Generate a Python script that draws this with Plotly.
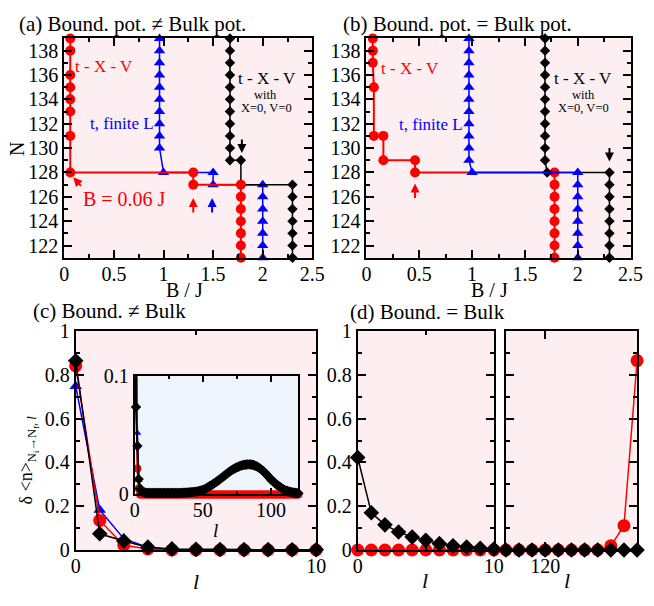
import plotly.graph_objects as go

W, H = 654, 606
FONT = "Liberation Serif"
RED, BLUE, BLACK = "#ff0000", "#0000ff", "#000000"
PINK, LBLUE = "#fdeef2", "#eef5fc"

# ---------------- panel (a): Bound. pot. != Bulk pot. ----------------
a_red_B = [0.06, 0.06, 0.06, 0.06, 0.06, 0.06, 0.06, 0.06, 1.3, 1.3,
           1.78, 1.78, 1.78, 1.78, 1.78, 1.78, 1.78]
a_red_N = [139, 138, 136, 135, 134, 133, 131, 128, 128, 127,
           127, 126, 125, 124, 123, 122, 121]
a_blue_B = [0.96, 0.96, 0.96, 0.96, 0.96, 0.96, 0.96, 0.96, 0.96, 0.96,
            1.0, 1.5, 1.5, 2.0, 2.0, 2.0, 2.0, 2.0, 2.0, 2.0]
a_blue_N = [139, 138, 137, 136, 135, 134, 133, 132, 131, 130,
            128, 128, 127, 127, 126, 125, 124, 123, 122, 121]
a_black_B = [1.67, 1.67, 1.67, 1.67, 1.67, 1.67, 1.67, 1.67, 1.67, 1.67, 1.67,
             1.78, 1.78, 2.3, 2.3, 2.3, 2.3, 2.3, 2.3, 2.3]
a_black_N = [139, 138, 137, 136, 135, 134, 133, 132, 131, 130, 129,
             129, 127, 127, 126, 125, 124, 123, 122, 121]

# ---------------- panel (b): Bound. pot. = Bulk pot. ----------------
b_red_B = [0.06, 0.06, 0.06, 0.07, 0.07, 0.16, 0.16, 0.46, 0.46,
           1.78, 1.78, 1.78, 1.78, 1.78, 1.78, 1.78, 1.78]
b_red_N = [139, 138, 137, 135, 131, 131, 129, 129, 128,
           128, 127, 126, 125, 124, 123, 122, 121]
b_blue_B = [0.97, 0.97, 0.97, 0.97, 0.97, 0.97, 0.97, 0.97, 0.97, 0.97, 0.97,
            1.0, 2.0, 2.0, 2.0, 2.0, 2.0, 2.0, 2.0, 2.0]
b_blue_N = [139, 138, 137, 136, 135, 134, 133, 132, 131, 130, 129,
            128, 128, 127, 126, 125, 124, 123, 122, 121]
b_black_B = [1.69, 1.69, 1.69, 1.69, 1.69, 1.69, 1.69, 1.69, 1.69, 1.69, 1.69,
             1.71, 2.3, 2.3, 2.3, 2.3, 2.3, 2.3, 2.3, 2.3]
b_black_N = [139, 138, 137, 136, 135, 134, 133, 132, 131, 130, 129,
             128, 128, 127, 126, 125, 124, 123, 122, 121]

# ---------------- panel (c): Bound. != Bulk, l = 0..127 ----------------
c_black = [
    0.865, 0.074, 0.041, 0.013, 0.005, 0.0030, 0.0022, 0.0018, 0.0015, 0.0014,
    0.0013, 0.0013, 0.0012, 0.0012, 0.0012, 0.0012, 0.0012, 0.0012, 0.0012, 0.0012,
    0.0012, 0.0012, 0.0012, 0.0012, 0.0012, 0.0012, 0.0012, 0.0012, 0.0012, 0.0012,
    0.0012, 0.0013, 0.0013, 0.0013, 0.0014, 0.0014, 0.0015, 0.0015, 0.0016, 0.0017,
    0.0018, 0.0019, 0.0020, 0.0021, 0.0022, 0.0024, 0.0026, 0.0028, 0.0031, 0.0034,
    0.0038, 0.0043, 0.0049, 0.0056, 0.0063, 0.0070, 0.0077, 0.0084, 0.0092, 0.0100,
    0.0108, 0.0116, 0.0125, 0.0134, 0.0143, 0.0152, 0.0161, 0.0170, 0.0179, 0.0188,
    0.0196, 0.0204, 0.0211, 0.0218, 0.0224, 0.0230, 0.0235, 0.0240, 0.0244, 0.0247,
    0.0250, 0.0252, 0.0254, 0.0255, 0.0255, 0.0254, 0.0252, 0.0249, 0.0245, 0.0240,
    0.0234, 0.0227, 0.0219, 0.0210, 0.0200, 0.0190, 0.0178, 0.0165, 0.0152, 0.0139,
    0.0125, 0.0115, 0.0105, 0.0095, 0.0085, 0.0075, 0.0068, 0.0060, 0.0052, 0.0044,
    0.0037, 0.0033, 0.0029, 0.0025, 0.0022, 0.0019, 0.0017, 0.0015, 0.0013, 0.0012,
    0.0011, 0.0010, 0.0010, 0.0010, 0.0010, 0.0010, 0.0010, 0.0010]
c_red = [
    0.841, 0.135, 0.022, 0.005, 0, 0, 0, 0, 0, 0, 0, 0, 0, 0, 0, 0,
    0, 0, 0, 0, 0, 0, 0, 0, 0, 0, 0, 0, 0, 0, 0, 0,
    0, 0, 0, 0, 0, 0, 0, 0, 0, 0, 0, 0, 0, 0, 0, 0,
    0, 0, 0, 0, 0, 0, 0, 0, 0, 0, 0, 0, 0, 0, 0, 0,
    0, 0, 0, 0, 0, 0, 0, 0, 0, 0, 0, 0, 0, 0, 0, 0,
    0, 0, 0, 0, 0, 0, 0, 0, 0, 0, 0, 0, 0, 0, 0, 0,
    0, 0, 0, 0, 0, 0, 0, 0, 0, 0, 0, 0, 0, 0, 0, 0,
    0, 0, 0, 0, 0, 0, 0, 0, 0, 0, 0, 0, 0, 0, 0, 0]
c_blue = [
    0.749, 0.183, 0.052, 0.012, 0.002, 0, 0, 0, 0, 0, 0, 0, 0, 0, 0, 0,
    0, 0, 0, 0, 0, 0, 0, 0, 0, 0, 0, 0, 0, 0, 0, 0,
    0, 0, 0, 0, 0, 0, 0, 0, 0, 0, 0, 0, 0, 0, 0, 0,
    0, 0, 0, 0, 0, 0, 0, 0, 0, 0, 0, 0, 0, 0, 0, 0,
    0, 0, 0, 0, 0, 0, 0, 0, 0, 0, 0, 0, 0, 0, 0, 0,
    0, 0, 0, 0, 0, 0, 0, 0, 0, 0, 0, 0, 0, 0, 0, 0,
    0, 0, 0, 0, 0, 0, 0, 0, 0, 0, 0, 0, 0, 0, 0, 0,
    0, 0, 0, 0, 0, 0, 0, 0, 0, 0, 0, 0, 0, 0, 0, 0]
c_l = list(range(len(c_black)))

# ---------------- panel (d): Bound. = Bulk ----------------
d_left_l = [0, 1, 2, 3, 4, 5, 6, 7, 8, 9, 10]
d_left_black = [0.423, 0.170, 0.115, 0.082, 0.059, 0.044, 0.029, 0.019, 0.014, 0.008, 0.004]
d_left_red = [0, 0, 0, 0, 0, 0, 0, 0, 0, 0, 0]
d_right_l = [117, 118, 119, 120, 121, 122, 123, 124, 125, 126, 127]
d_right_black = [0, 0, 0, 0, 0, 0, 0, 0, 0, 0, 0]
d_right_red = [0, 0, 0, 0, 0, 0, 0, 0, 0.019, 0.111, 0.866]


def px(x):
    return x / W


def py(y):
    return 1 - y / H


fig = go.Figure()


def add(x, y, color, symbol, size, lw, ax, ayx):
    fig.add_trace(go.Scatter(
        x=x, y=y, mode="lines+markers", xaxis=ax, yaxis=ayx,
        line=dict(color=color, width=lw),
        marker=dict(color=color, symbol=symbol, size=size, line=dict(width=0)),
        cliponaxis=False, showlegend=False, hoverinfo="skip"))


# (a): blue, black, red (red on top)
add(a_blue_B, a_blue_N, BLUE, "triangle-up", 10, 1.5, "x", "y")
add(a_black_B, a_black_N, BLACK, "diamond", 8, 1.5, "x", "y")
add(a_red_B, a_red_N, RED, "circle", 10, 2, "x", "y")
# (b): red, black, blue (blue on top)
add(b_red_B, b_red_N, RED, "circle", 10, 2, "x2", "y2")
add(b_black_B, b_black_N, BLACK, "diamond", 8, 1.5, "x2", "y2")
add(b_blue_B, b_blue_N, BLUE, "triangle-up", 10, 1.5, "x2", "y2")
# (c) main
add(c_l, c_blue, BLUE, "triangle-up", 11, 1.5, "x3", "y3")
add(c_l, c_red, RED, "circle", 13, 1.5, "x3", "y3")
add(c_l, c_black, BLACK, "diamond", 12, 1.5, "x3", "y3")
# (c) inset
add(c_l, c_blue, BLUE, "triangle-up", 7, 1.5, "x4", "y4")
add(c_l, c_red, RED, "circle", 8, 2, "x4", "y4")
add(c_l, c_black, BLACK, "diamond", 8, 2, "x4", "y4")
# (d)
add(d_left_l, d_left_red, RED, "circle", 13, 1.5, "x5", "y5")
add(d_left_l, d_left_black, BLACK, "diamond", 12, 1.5, "x5", "y5")
add(d_right_l, d_right_red, RED, "circle", 13, 1.5, "x6", "y6")
add(d_right_l, d_right_black, BLACK, "diamond", 12, 1.5, "x6", "y6")

tickfont = dict(family=FONT, size=20, color="black")


def axis(domain, rng, dtick=None, minor=None, tickvals=None, labels=True, anchor=None,
         ticklen=8, standoff=0):
    d = dict(domain=domain, range=rng, showline=True, linecolor="black", linewidth=2,
             mirror="allticks", ticks="inside", ticklen=ticklen, tickwidth=2,
             tickcolor="black", showgrid=False, zeroline=False, tickfont=tickfont,
             showticklabels=labels, anchor=anchor, fixedrange=True,
             ticklabelstandoff=standoff)
    if tickvals is not None:
        d["tickmode"] = "array"
        d["tickvals"] = tickvals
    elif dtick is not None:
        d["tick0"] = 0
        d["dtick"] = dtick
    if minor is not None:
        d["minor"] = dict(ticks="inside", ticklen=ticklen // 2, tickwidth=2,
                          tickcolor="black", dtick=minor, tick0=0, showgrid=False)
    return d


yA = [py(256), py(28.5)]
yC = [py(559.3), py(332.3)]
XS = -3
fig.update_layout(
    xaxis=axis([px(61), px(316)], [0, 2.5], 0.5, 0.25, anchor="y", standoff=XS),
    yaxis=axis(yA, [121, 139], 2, 1, anchor="x"),
    xaxis2=axis([px(371.7), px(643.3)], [0, 2.5], 0.5, 0.25, anchor="y2", standoff=XS),
    yaxis2=axis(yA, [121, 139], 2, 1, anchor="x2"),
    xaxis3=axis([px(72.7), px(320)], [0, 10], 10, 5, anchor="y3", standoff=XS),
    yaxis3=axis(yC, [0, 1], 0.2, 0.1, anchor="x3"),
    xaxis4=axis([px(133.3), px(301.7)], [0, 120], 50, 25, anchor="y4", ticklen=6,
                standoff=XS),
    yaxis4=axis([py(501.7), py(379)], [0, 0.1], 0.1, None, anchor="x4", ticklen=6),
    xaxis5=axis([px(362.7), px(502.7)], [0, 10], 10, 5, anchor="y5", standoff=XS),
    yaxis5=axis(yC, [0, 1], 0.2, 0.1, anchor="x5"),
    xaxis6=axis([px(515), px(650)], [117, 127], 10, None, tickvals=[120], anchor="y6",
                standoff=XS),
    yaxis6=axis(yC, [0, 1], 0.2, 0.1, labels=False, anchor="x6"),
)

# panel backgrounds
shapes = []
for (x0, x1, y0, y1, col) in [
    (61, 316, 28.5, 256, PINK), (371.7, 643.3, 28.5, 256, PINK),
    (72.7, 320, 332.3, 559.3, PINK), (133.3, 301.7, 379, 501.7, LBLUE),
    (362.7, 502.7, 332.3, 559.3, PINK), (515, 650, 332.3, 559.3, PINK)]:
    shapes.append(dict(type="rect", xref="paper", yref="paper", layer="below",
                       x0=px(x0), x1=px(x1), y0=py(y1), y1=py(y0),
                       fillcolor=col, line=dict(width=0)))

ann = []


def ptext(x, y, text, size=20, xanchor="center", angle=0, color="black"):
    ann.append(dict(x=px(x), y=py(y), xref="paper", yref="paper", text=text,
                    showarrow=False, xanchor=xanchor, yanchor="middle", textangle=angle,
                    font=dict(family=FONT, size=size, color=color)))


def dtext(x, y, xr, yr, text, size, color):
    ann.append(dict(x=x, y=y, xref=xr, yref=yr, text=text, showarrow=False,
                    xanchor="center", yanchor="middle",
                    font=dict(family=FONT, size=size, color=color)))


def arrow(x, y, xr, yr, axp, ayp, color):
    ann.append(dict(x=x, y=y, xref=xr, yref=yr, text="", showarrow=True,
                    ax=axp, ay=ayp, arrowhead=2, arrowsize=0.9, arrowwidth=2,
                    arrowcolor=color, standoff=0))


# titles
ptext(12, 13, "(a) Bound. pot. ≠ Bulk pot.", 21, "left")
ptext(345, 13, "(b) Bound. pot. = Bulk pot.", 21, "left")
ptext(27, 311, "(c) Bound. ≠ Bulk", 21, "left")
ptext(353, 312, "(d) Bound. = Bulk", 21, "left")
# axis titles
ptext(185, 289, "B / J")
ptext(498, 289, "B / J")
ptext(12.5, 143, "N", angle=-90)
ptext(196, 592, "<i>l</i>", 22)
ptext(216, 539, "<i>l</i>", 19)
ptext(432, 591, "<i>l</i>", 22)
ptext(578, 591, "<i>l</i>", 22)
ptext(24, 466, "δ &lt;n&gt;<sub>N<sub>i</sub>→N<sub>f</sub>, <i>l</i></sub>", 18, angle=-90)

# panel (a) labels
dtext(0.40, 136.7, "x", "y", "t - X - V", 17, RED)
dtext(0.58, 132.0, "x", "y", "t, finite L", 17, BLUE)
dtext(0.61, 125.8, "x", "y", "B = 0.06 J", 20, RED)
dtext(2.04, 135.7, "x", "y", "t - X - V", 17, BLACK)
dtext(2.03, 134.35, "x", "y", "with", 12.5, BLACK)
dtext(2.04, 133.3, "x", "y", "X=0, V=0", 12.5, BLACK)
arrow(1.79, 129.6, "x", "y", 0, -15, BLACK)
arrow(1.3, 125.9, "x", "y", 0, 16, RED)
arrow(1.49, 125.9, "x", "y", 0, 16, BLUE)
arrow(0.09, 127.6, "x", "y", 9, 10, RED)

# panel (b) labels
dtext(0.41, 136.5, "x2", "y2", "t - X - V", 17, RED)
dtext(0.61, 131.9, "x2", "y2", "t, finite L", 17, BLUE)
dtext(2.05, 135.7, "x2", "y2", "t - X - V", 17, BLACK)
dtext(2.05, 134.35, "x2", "y2", "with", 12.5, BLACK)
dtext(2.05, 133.3, "x2", "y2", "X=0, V=0", 12.5, BLACK)
arrow(2.3, 128.9, "x2", "y2", 0, -15, BLACK)
arrow(0.46, 127.1, "x2", "y2", 0, 16, RED)

fig.update_layout(
    width=W, height=H, margin=dict(l=0, r=0, t=0, b=0),
    paper_bgcolor="white", plot_bgcolor="rgba(0,0,0,0)",
    shapes=shapes, annotations=ann, showlegend=False,
    font=dict(family=FONT, color="black"),
)

fig.write_html("out.html")
